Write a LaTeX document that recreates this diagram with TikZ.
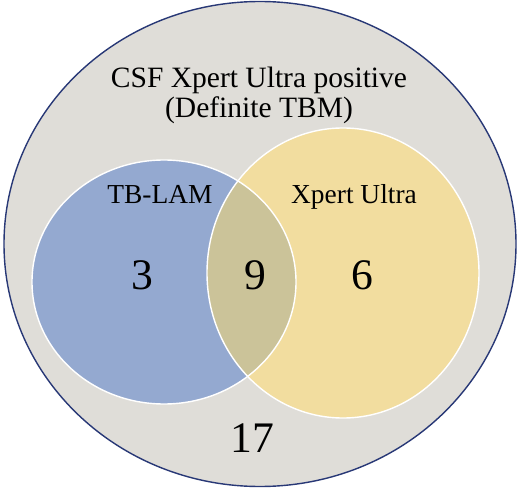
\documentclass[tikz,border=0pt]{standalone}
\usepackage{fontspec}
\setmainfont{Liberation Serif}
\usepackage{xcolor}
\usepackage{tikz}

\definecolor{tbmgrey}{RGB}{223,221,216}
\definecolor{tbmnavy}{RGB}{40,56,118}
\definecolor{lamblue}{RGB}{148,169,208}
\definecolor{ultrayellow}{RGB}{242,221,159}
\definecolor{bothmix}{RGB}{203,195,153}

\begin{document}
\begin{tikzpicture}[x=0.025cm, y=0.025cm,
    headtext/.style={anchor=base, font=\fontsize{21}{25}\selectfont},
    settext/.style={anchor=base, font=\fontsize{19.5}{23}\selectfont},
    counttext/.style={anchor=base, font=\fontsize{31}{36}\selectfont}]
   			\useasboundingbox (0,0) rectangle (520,488);
   			\coordinate (O) at (260,244);
   			\coordinate (L) at (164,206);
   			\coordinate (X) at (343,215);

   			\filldraw[fill=tbmgrey, draw=tbmnavy, line width=1pt] (O) ellipse [x radius=256, y radius=242.5];
   			\fill[lamblue] (L) ellipse [x radius=132, y radius=122];
   			\fill[ultrayellow] (X) ellipse [x radius=136, y radius=145];
   			\begin{scope}
   				\clip (L) ellipse [x radius=132, y radius=122];
   				\fill[bothmix] (X) ellipse [x radius=136, y radius=145];
   			\end{scope}
   			\draw[white, line width=1pt] (L) ellipse [x radius=132, y radius=122];
   			\draw[white, line width=1pt] (X) ellipse [x radius=136, y radius=145];

   			\node[headtext] (head) at (259,400) {CSF Xpert Ultra positive};
   			\node[headtext] (sub) at (259,370) {(Definite TBM)};
   			\foreach \name/\x/\y/\txt in {
   				lam/160/284/TB-LAM,
   				ultra/354/284/Xpert Ultra
   			}{
   				\node[settext] (\name) at (\x,\y) {\txt};
   			}
   			\foreach \name/\x/\y/\num in {
   				onlylam/142/198/3,
   				both/255/198/9,
   				onlyultra/362/198/6,
   				neither/252/36/17
   			}{
   				\node[counttext] (\name) at (\x,\y) {\num};
   			}
   		\end{tikzpicture}
\end{document}
